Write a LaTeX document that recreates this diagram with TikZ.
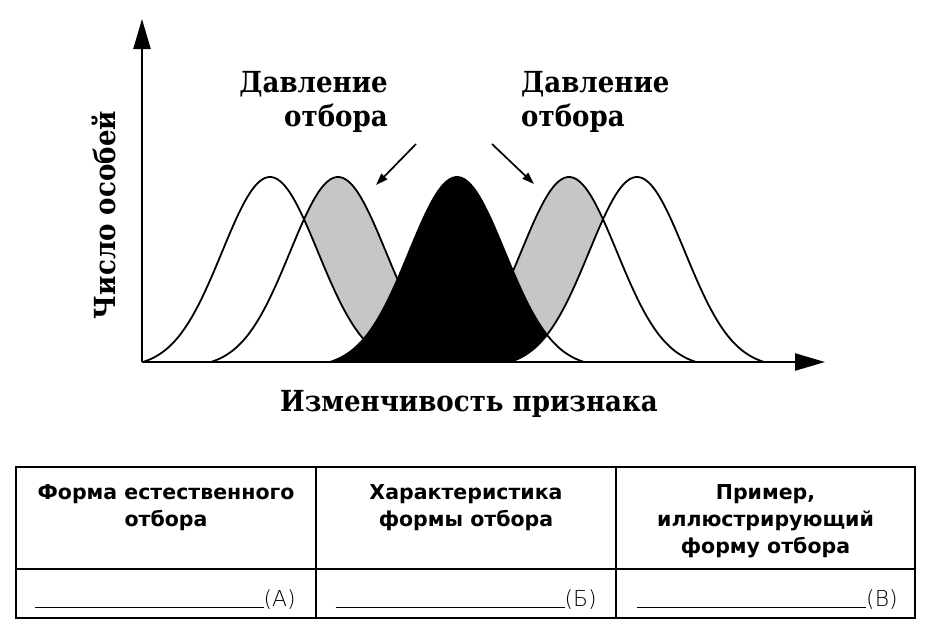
\documentclass[tikz,border=0pt]{standalone}
\usepackage{fontspec}
\usetikzlibrary{arrows.meta}
\setmainfont{DejaVu Serif}
\newfontfamily\diagfont{DejaVu Serif}[FakeStretch=0.9]
\newfontfamily\tabfont{DejaVu Sans}
\newfontfamily\thinfont{DejaVu Sans ExtraLight}
\newcommand\bellcurve[1]{plot[domain=-2.65:2.65,samples=90,smooth] ({#1+48*\x},{362-190.7*(exp(-\x*\x/2)-0.0299)})}
\tikzset{
  curve/.style={line width=1.8pt,line join=round},
  axis/.style={line width=2.4pt,-{Triangle[length=30pt,width=17pt]}},
  pointer/.style={line width=1.7pt,-{Triangle[length=12pt,width=8pt]}},
  dlabel/.style={font=\diagfont\bfseries\fontsize{29}{34}\selectfont,inner sep=0pt},
  grid/.style={line width=2pt},
  head/.style={font=\tabfont\bfseries\fontsize{20.5}{27}\selectfont,align=center,anchor=north,inner sep=0pt},
  blank/.style={font=\thinfont\fontsize{22}{24}\selectfont,anchor=base east,inner sep=0pt},
}
\begin{document}
\begin{tikzpicture}[x=1pt,y=-1pt]
\useasboundingbox[fill=white] (0,0) rectangle (932,630);
% fills
\fill[gray!45] \bellcurve{338} -- cycle;
\fill[gray!45] \bellcurve{569} -- cycle;
\fill[white] \bellcurve{270} -- cycle;
\fill[black] \bellcurve{457} -- cycle;
\fill[white] \bellcurve{637} -- cycle;
% outlines
\foreach \c in {270,338,457,569,637} {\draw[curve] \bellcurve{\c};}
% axes
\coordinate (O) at (142,362);
\coordinate (Ytop) at (142,19);
\coordinate (Xend) at (825,362);
\draw[axis] (O) -- (Ytop);
\draw[axis] (O) -- (Xend);
% labels
\node[dlabel,rotate=90] (ylab) at (104,215) {Число особей};
\node[dlabel,anchor=base] (xlab) at (469,411) {Изменчивость признака};
\node[dlabel,align=right,anchor=north east] (pl) at (388,71) {Давление\\отбора};
\node[dlabel,align=left,anchor=north west] (pr) at (521,71) {Давление\\отбора};
\coordinate (p1s) at (416,144);
\coordinate (p1e) at (376,185);
\coordinate (p2s) at (492,144);
\coordinate (p2e) at (534,184);
\draw[pointer] (p1s) -- (p1e);
\draw[pointer] (p2s) -- (p2e);
% table
\draw[grid] (16,467) rectangle (915,618);
\draw[grid] (16,569) -- (915,569);
\draw[grid] (316,467) -- (316,618);
\draw[grid] (616,467) -- (616,618);
\node[head] (h1) at (166,484) {Форма естественного\\отбора};
\node[head] (h2) at (466,484) {Характеристика\\формы отбора};
\node[head] (h3) at (765.5,484) {Пример,\\иллюстрирующий\\форму отбора};
\node[blank] (bA) at (296,606) {\rule[-1.5pt]{229pt}{0.9pt}(А)};
\node[blank] (bB) at (597,606) {\rule[-1.5pt]{229pt}{0.9pt}(Б)};
\node[blank] (bC) at (898,606) {\rule[-1.5pt]{229pt}{0.9pt}(В)};
\end{tikzpicture}
\end{document}
